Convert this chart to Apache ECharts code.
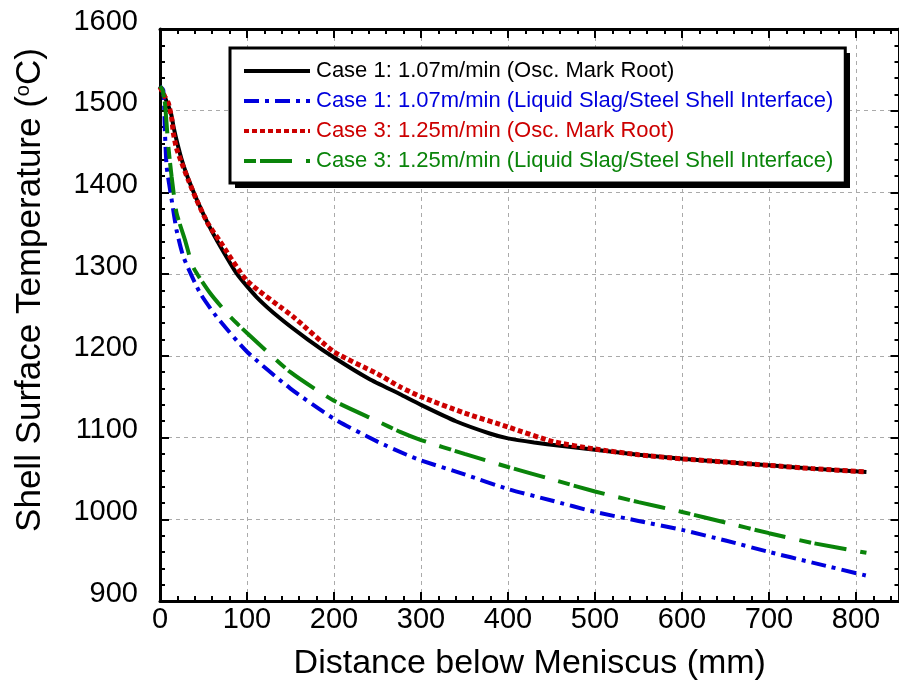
<!DOCTYPE html>
<html>
<head>
	<title>shell surface temperature</title>
	<meta charset="utf-8">
	<style>
		html, body, #chart {
			margin: 0;
			padding: 0;
			width: 899px;
			height: 690px;
			background: #fff;
		}
	</style>
	<script src="https://cdn.jsdelivr.net/npm/echarts@6/dist/echarts.min.js"></script>
</head>
<body>

<div id="chart"></div>

<script>

// Case 1: 1.07 m/min, osc. mark root
var rootX1 = [0, 5, 10, 13, 16, 20, 25, 32, 42, 55, 65, 88, 111, 138, 170, 200, 240, 276, 300, 340, 379, 400, 430, 460, 500, 550, 600, 650, 700, 750, 812];
var rootT1 = [1530, 1518, 1505, 1495, 1478, 1460, 1440, 1418, 1392, 1362, 1342, 1301, 1272, 1246, 1220, 1198, 1172, 1153, 1140, 1120, 1105, 1099, 1094, 1090, 1085, 1079, 1074, 1070, 1066, 1062, 1058];

// Case 1: 1.07 m/min, liquid slag / steel shell interface
var slagX1 = [0, 3.8, 5.7, 7.7, 13.4, 19, 27, 46, 65, 100, 150, 200, 250, 283.5, 300, 350, 400, 450, 500, 550, 600, 650, 700, 750, 812];
var slagT1 = [1530, 1525, 1473, 1431, 1391, 1354, 1321, 1277, 1248, 1205, 1160, 1123, 1095, 1079, 1072, 1055, 1037, 1023, 1009, 998, 987, 974, 960, 947, 931];

// Case 3: 1.25 m/min, osc. mark root
var rootX3 = [0, 5.7, 9.6, 13.4, 15.3, 19, 25, 32.6, 42, 55, 69, 100, 153, 200, 250, 276, 300, 350, 400, 452, 500, 550, 600, 650, 700, 750, 812];
var rootT3 = [1529, 1517, 1509, 1491, 1473, 1454, 1436, 1415, 1391, 1362, 1340, 1292, 1248, 1205, 1178, 1162, 1150, 1130, 1113, 1095, 1086, 1079, 1074, 1070, 1066, 1062, 1058];

// Case 3: 1.25 m/min, liquid slag / steel shell interface
var slagX3 = [0, 3, 5.7, 9.6, 13.4, 19, 28.7, 38, 57.5, 80.5, 100, 150, 200, 250, 276, 300, 350, 400, 450, 500, 550, 600, 650, 700, 750, 812];
var slagT3 = [1530, 1525, 1509, 1456, 1419, 1375, 1342, 1309, 1277, 1248, 1228, 1180, 1145, 1120, 1107, 1097, 1080, 1064, 1049, 1034, 1021, 1009, 996, 983, 971, 959];

var names = [
	'Case 1: 1.07m/min (Osc. Mark Root)',
	'Case 1: 1.07m/min (Liquid Slag/Steel Shell Interface)',
	'Case 3: 1.25m/min (Osc. Mark Root)',
	'Case 3: 1.25m/min (Liquid Slag/Steel Shell Interface)'
];
var colors = ['#000000', '#0000dd', '#cc0000', '#0a840a'];
var dashes = ['solid', [15, 6, 4, 6], [5, 3], [12, 4, 32, 14]];
var widths = [4, 4, 5, 4];

function pairs (xs, ys) {
	return xs.map(function (x, i) {
		return [x, ys[i]];
	});
}

var seriesData = [
	pairs(rootX1, rootT1),
	pairs(slagX1, slagT1),
	pairs(rootX3, rootT3),
	pairs(slagX3, slagT3)
];

var font = 'Liberation Sans, Arial, sans-serif';

function axisBase (pos, min, max) {
	return {
		type: 'value',
		position: pos,
		min: min,
		max: max,
		interval: 100,
		axisLine: { show: true, onZero: false, lineStyle: { color: '#000', width: 3 } },
		axisTick: { show: true, inside: true, length: 9, lineStyle: { color: '#000', width: 2 } },
		minorTick: { show: true, splitNumber: 5, length: 5, lineStyle: { color: '#000', width: 2 } },
		splitLine: { show: false },
		axisLabel: { show: false }
	};
}

var gridLine = { show: true, lineStyle: { color: '#aaaaaa', type: [4, 4], width: 1 } };

var xBottom = axisBase('bottom', 0, 850);
xBottom.splitLine = gridLine;
xBottom.axisLabel = { color: '#000', fontSize: 29, fontFamily: font, margin: 4 };
xBottom.name = 'Distance below Meniscus (mm)';
xBottom.nameLocation = 'middle';
xBottom.nameGap = 46;
xBottom.nameTextStyle = { color: '#000', fontSize: 34, fontFamily: font };

var xTop = axisBase('top', 0, 850);

var yLeft = axisBase('left', 900, 1600);
yLeft.splitLine = gridLine;
yLeft.axisLabel = {
	color: '#000', fontSize: 29, fontFamily: font, margin: 22,
	verticalAlign: 'bottom', lineHeight: 15,
	formatter: function (v) { return String(v); }
};
yLeft.name = 'Shell Surface Temperature ({sup|o}C)';
yLeft.nameLocation = 'middle';
yLeft.nameGap = 112;
yLeft.nameTextStyle = {
	color: '#000',
	fontSize: 35,
	fontFamily: font,
	padding: [0, 0, 0, 50],
	rich: {
		sup: { fontSize: 20, fontFamily: font, color: '#000', verticalAlign: 'top', padding: [0, 0, 14, 0] }
	}
};

var yRight = axisBase('right', 900, 1600);

var chart = echarts.init(document.getElementById('chart'));

chart.setOption({
	animation: false,
	backgroundColor: '#fff',
	grid: { left: 160, top: 29, width: 739.5, height: 572, containLabel: false, outerBoundsMode: 'none' },
	xAxis: [xBottom, xTop],
	yAxis: [yLeft, yRight],
	// drop shadow behind the legend box
	graphic: [{
		type: 'rect',
		z: 1,
		left: 235,
		top: 53,
		shape: { width: 615, height: 135 },
		style: { fill: '#000' }
	}],
	legend: {
		orient: 'vertical',
		left: 230,
		top: 48,
		z: 5,
		padding: [11, 12, 10, 12],
		itemGap: 6,
		itemWidth: 66,
		itemHeight: 14,
		backgroundColor: '#fff',
		borderColor: '#000',
		borderWidth: 3,
		borderRadius: 0,
		itemStyle: { opacity: 0 },
		lineStyle: { width: 4, opacity: 1 },
		textStyle: { fontSize: 22, fontFamily: font, lineHeight: 24, padding: [0, 0, 0, 1] },
		data: names.map(function (n, i) {
			return { name: n, textStyle: { color: colors[i] } };
		})
	},
	series: names.map(function (n, i) {
		return {
			name: n,
			type: 'line',
			xAxisIndex: 0,
			yAxisIndex: 0,
			showSymbol: false,
			symbol: 'none',
			smooth: 0.2,
			z: 3,
			data: seriesData[i],
			lineStyle: { color: colors[i], width: widths[i], type: dashes[i] },
			itemStyle: { color: colors[i] }
		};
	})
});

</script>
</body>
</html>
